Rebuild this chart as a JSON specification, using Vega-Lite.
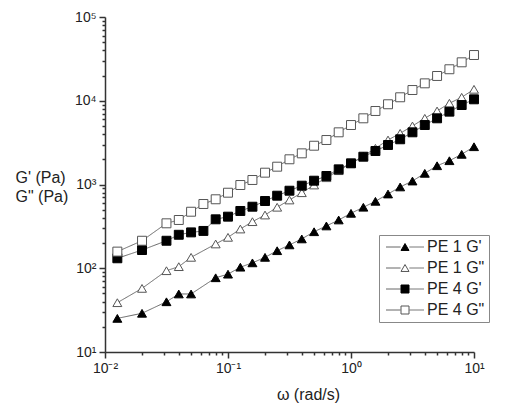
{
  "$schema": "https://vega.github.io/schema/vega-lite/v6.json",
  "width": 369,
  "height": 335,
  "autosize": {"type": "none"},
  "padding": {"left": 105, "top": 17, "right": 33, "bottom": 52},
  "background": "white",
  "config": {
    "view": {"stroke": null},
    "font": "Liberation Sans"
  },
  "data": {
    "values": [
      {"s": "PE 1 G'", "w": 0.0126, "g": 25.2}, {"s": "PE 1 G'", "w": 0.02, "g": 29}, {"s": "PE 1 G'", "w": 0.0316, "g": 39.8}, {"s": "PE 1 G'", "w": 0.0398, "g": 49.3}, {"s": "PE 1 G'", "w": 0.0501, "g": 49.3}, {"s": "PE 1 G'", "w": 0.0794, "g": 77}, {"s": "PE 1 G'", "w": 0.1, "g": 85}, {"s": "PE 1 G'", "w": 0.126, "g": 103}, {"s": "PE 1 G'", "w": 0.158, "g": 116}, {"s": "PE 1 G'", "w": 0.2, "g": 135}, {"s": "PE 1 G'", "w": 0.251, "g": 162}, {"s": "PE 1 G'", "w": 0.316, "g": 190}, {"s": "PE 1 G'", "w": 0.398, "g": 224}, {"s": "PE 1 G'", "w": 0.501, "g": 273}, {"s": "PE 1 G'", "w": 0.631, "g": 320}, {"s": "PE 1 G'", "w": 0.794, "g": 377}, {"s": "PE 1 G'", "w": 1, "g": 453}, {"s": "PE 1 G'", "w": 1.26, "g": 535}, {"s": "PE 1 G'", "w": 1.58, "g": 630}, {"s": "PE 1 G'", "w": 2, "g": 770}, {"s": "PE 1 G'", "w": 2.51, "g": 935}, {"s": "PE 1 G'", "w": 3.16, "g": 1100}, {"s": "PE 1 G'", "w": 3.98, "g": 1360}, {"s": "PE 1 G'", "w": 5.01, "g": 1675}, {"s": "PE 1 G'", "w": 6.31, "g": 1923}, {"s": "PE 1 G'", "w": 7.94, "g": 2293}, {"s": "PE 1 G'", "w": 10, "g": 2825},
      {"s": "PE 1 G\"", "w": 0.0126, "g": 38.8}, {"s": "PE 1 G\"", "w": 0.02, "g": 57.5}, {"s": "PE 1 G\"", "w": 0.0316, "g": 93.5}, {"s": "PE 1 G\"", "w": 0.0398, "g": 104.5}, {"s": "PE 1 G\"", "w": 0.0501, "g": 135}, {"s": "PE 1 G\"", "w": 0.0794, "g": 195}, {"s": "PE 1 G\"", "w": 0.1, "g": 234}, {"s": "PE 1 G\"", "w": 0.126, "g": 294}, {"s": "PE 1 G\"", "w": 0.158, "g": 360}, {"s": "PE 1 G\"", "w": 0.2, "g": 432}, {"s": "PE 1 G\"", "w": 0.251, "g": 535}, {"s": "PE 1 G\"", "w": 0.316, "g": 653}, {"s": "PE 1 G\"", "w": 0.398, "g": 798}, {"s": "PE 1 G\"", "w": 0.501, "g": 986}, {"s": "PE 1 G\"", "w": 0.631, "g": 1205}, {"s": "PE 1 G\"", "w": 0.794, "g": 1462}, {"s": "PE 1 G\"", "w": 1, "g": 1790}, {"s": "PE 1 G\"", "w": 1.26, "g": 2188}, {"s": "PE 1 G\"", "w": 1.58, "g": 2704}, {"s": "PE 1 G\"", "w": 2, "g": 3398}, {"s": "PE 1 G\"", "w": 2.51, "g": 4083}, {"s": "PE 1 G\"", "w": 3.16, "g": 4997}, {"s": "PE 1 G\"", "w": 3.98, "g": 6170}, {"s": "PE 1 G\"", "w": 5.01, "g": 7546}, {"s": "PE 1 G\"", "w": 6.31, "g": 9333}, {"s": "PE 1 G\"", "w": 7.94, "g": 11000}, {"s": "PE 1 G\"", "w": 10, "g": 13700},
      {"s": "PE 4 G'", "w": 0.0126, "g": 131.5}, {"s": "PE 4 G'", "w": 0.02, "g": 165}, {"s": "PE 4 G'", "w": 0.0316, "g": 213}, {"s": "PE 4 G'", "w": 0.0398, "g": 251}, {"s": "PE 4 G'", "w": 0.0501, "g": 268}, {"s": "PE 4 G'", "w": 0.0631, "g": 279}, {"s": "PE 4 G'", "w": 0.0794, "g": 384}, {"s": "PE 4 G'", "w": 0.1, "g": 413}, {"s": "PE 4 G'", "w": 0.126, "g": 483}, {"s": "PE 4 G'", "w": 0.158, "g": 543}, {"s": "PE 4 G'", "w": 0.2, "g": 635}, {"s": "PE 4 G'", "w": 0.251, "g": 735}, {"s": "PE 4 G'", "w": 0.316, "g": 843}, {"s": "PE 4 G'", "w": 0.398, "g": 968}, {"s": "PE 4 G'", "w": 0.501, "g": 1110}, {"s": "PE 4 G'", "w": 0.631, "g": 1264}, {"s": "PE 4 G'", "w": 0.794, "g": 1517}, {"s": "PE 4 G'", "w": 1, "g": 1790}, {"s": "PE 4 G'", "w": 1.26, "g": 2147}, {"s": "PE 4 G'", "w": 1.58, "g": 2512}, {"s": "PE 4 G'", "w": 2, "g": 2963}, {"s": "PE 4 G'", "w": 2.51, "g": 3467}, {"s": "PE 4 G'", "w": 3.16, "g": 4198}, {"s": "PE 4 G'", "w": 3.98, "g": 5130}, {"s": "PE 4 G'", "w": 5.01, "g": 6170}, {"s": "PE 4 G'", "w": 6.31, "g": 7410}, {"s": "PE 4 G'", "w": 7.94, "g": 8890}, {"s": "PE 4 G'", "w": 10, "g": 10400},
      {"s": "PE 4 G\"", "w": 0.0126, "g": 158}, {"s": "PE 4 G\"", "w": 0.02, "g": 213}, {"s": "PE 4 G\"", "w": 0.0316, "g": 344}, {"s": "PE 4 G\"", "w": 0.0398, "g": 377}, {"s": "PE 4 G\"", "w": 0.0501, "g": 473}, {"s": "PE 4 G\"", "w": 0.0631, "g": 585}, {"s": "PE 4 G\"", "w": 0.0794, "g": 666}, {"s": "PE 4 G\"", "w": 0.1, "g": 798}, {"s": "PE 4 G\"", "w": 0.126, "g": 986}, {"s": "PE 4 G\"", "w": 0.158, "g": 1132}, {"s": "PE 4 G\"", "w": 0.2, "g": 1384}, {"s": "PE 4 G\"", "w": 0.251, "g": 1632}, {"s": "PE 4 G\"", "w": 0.316, "g": 2000}, {"s": "PE 4 G\"", "w": 0.398, "g": 2355}, {"s": "PE 4 G\"", "w": 0.501, "g": 2904}, {"s": "PE 4 G\"", "w": 0.631, "g": 3398}, {"s": "PE 4 G\"", "w": 0.794, "g": 4198}, {"s": "PE 4 G\"", "w": 1, "g": 5130}, {"s": "PE 4 G\"", "w": 1.26, "g": 6170}, {"s": "PE 4 G\"", "w": 1.58, "g": 7546}, {"s": "PE 4 G\"", "w": 2, "g": 9078}, {"s": "PE 4 G\"", "w": 2.51, "g": 11000}, {"s": "PE 4 G\"", "w": 3.16, "g": 13430}, {"s": "PE 4 G\"", "w": 3.98, "g": 16140}, {"s": "PE 4 G\"", "w": 5.01, "g": 19760}, {"s": "PE 4 G\"", "w": 6.31, "g": 23770}, {"s": "PE 4 G\"", "w": 7.94, "g": 28770}, {"s": "PE 4 G\"", "w": 10, "g": 35160}
    ]
  },
  "encoding": {
    "x": {
      "field": "w", "type": "quantitative",
      "scale": {"type": "log", "domain": [0.01, 10], "nice": false},
      "axis": {
        "title": "ω (rad/s)",
        "titleFont": "Liberation Sans", "titleFontSize": 16, "titleFontWeight": "normal", "titleColor": "#222",
        "titleX": 203, "titleY": 47, "titleAlign": "center", "titleBaseline": "alphabetic",
        "values": [0.01,0.02,0.03,0.04,0.05,0.06,0.07,0.08,0.09,0.1,0.2,0.3,0.4,0.5,0.6,0.7,0.8,0.9,1,2,3,4,5,6,7,8,9,10],
        "labelExpr": "abs(log(datum.value)/LN10 - round(log(datum.value)/LN10)) > 0.001 ? '' : (round(log(datum.value)/LN10) == -2 ? '10⁻²' : round(log(datum.value)/LN10) == -1 ? '10⁻¹' : round(log(datum.value)/LN10) == 0 ? '10⁰' : '10¹')",
        "labelOverlap": false, "labelFlush": false, "labelBound": false,
        "labelFont": "Liberation Sans", "labelFontSize": 14, "labelColor": "#222", "labelPadding": 3,
        "grid": false,
        "domainColor": "#333", "domainWidth": 1.5,
        "tickColor": "#333", "tickWidth": 1.5,
        "tickSize": {"condition": {"test": "abs(log(datum.value)/LN10 - round(log(datum.value)/LN10)) < 0.001", "value": 6}, "value": 3}
      }
    },
    "y": {
      "field": "g", "type": "quantitative",
      "scale": {"type": "log", "domain": [10, 100000], "nice": false},
      "axis": {
        "title": ["G' (Pa)", "G\" (Pa)"],
        "titleAngle": 0, "titleAlign": "left", "titleBaseline": "alphabetic",
        "titleX": -90, "titleY": 165, "titleLineHeight": 19,
        "titleFont": "Liberation Sans", "titleFontSize": 16, "titleFontWeight": "normal", "titleColor": "#222",
        "values": [10,20,30,40,50,60,70,80,90,100,200,300,400,500,600,700,800,900,1000,2000,3000,4000,5000,6000,7000,8000,9000,10000,20000,30000,40000,50000,60000,70000,80000,90000,100000],
        "labelExpr": "abs(log(datum.value)/LN10 - round(log(datum.value)/LN10)) > 0.001 ? '' : (round(log(datum.value)/LN10) == 1 ? '10¹' : round(log(datum.value)/LN10) == 2 ? '10²' : round(log(datum.value)/LN10) == 3 ? '10³' : round(log(datum.value)/LN10) == 4 ? '10⁴' : '10⁵')",
        "labelOverlap": false, "labelFlush": false, "labelBound": false,
        "labelFont": "Liberation Sans", "labelFontSize": 14, "labelColor": "#222", "labelPadding": 3,
        "grid": false,
        "domainColor": "#333", "domainWidth": 1.5,
        "tickColor": "#333", "tickWidth": 1.5,
        "tickSize": {"condition": {"test": "abs(log(datum.value)/LN10 - round(log(datum.value)/LN10)) < 0.001", "value": 6}, "value": 3}
      }
    }
  },
  "layer": [
    {
      "mark": {"type": "line", "color": "#666666", "strokeWidth": 1},
      "encoding": {
        "strokeDash": {
          "field": "s", "type": "nominal",
          "sort": ["PE 1 G'", "PE 1 G\"", "PE 4 G'", "PE 4 G\""],
          "scale": {"range": [[1, 0], [1, 0], [1, 0], [1, 0]]},
          "legend": {
            "title": null, "orient": "none", "legendX": 274, "legendY": 218,
            "strokeColor": "#888", "padding": 4,
            "symbolType": "M-4.75,0H-1.1M1.1,0H4.75",
            "symbolSize": 64, "symbolOffset": 14, "labelOffset": 14, "rowPadding": 5,
            "symbolStrokeWidth": 1, "symbolStrokeColor": "#666666",
            "labelFont": "Liberation Sans", "labelFontSize": 16, "labelColor": "#222", "labelOpacity": 0
          }
        }
      }
    },
    {
      "mark": {"type": "point", "filled": true, "size": 80, "strokeWidth": 1, "opacity": 1},
      "encoding": {
        "shape": {
          "field": "s", "type": "nominal",
          "scale": {"domain": ["PE 1 G'", "PE 1 G\"", "PE 4 G'", "PE 4 G\""], "range": ["triangle-up", "triangle-up", "square", "square"]},
          "legend": {
            "title": null, "orient": "none", "legendX": 274, "legendY": 218,
            "padding": 4,
            "symbolSize": 64, "symbolOffset": 14, "labelOffset": 14, "rowPadding": 5,
            "symbolStrokeWidth": 1,
            "labelFont": "Liberation Sans", "labelFontSize": 16, "labelColor": "#222"
          }
        },
        "fill": {
          "field": "s", "type": "nominal",
          "scale": {"domain": ["PE 1 G'", "PE 1 G\"", "PE 4 G'", "PE 4 G\""], "range": ["#000000", "#ffffff", "#000000", "#ffffff"]}
        },
        "stroke": {
          "field": "s", "type": "nominal",
          "scale": {"domain": ["PE 1 G'", "PE 1 G\"", "PE 4 G'", "PE 4 G\""], "range": ["#000000", "#555555", "#000000", "#555555"]}
        }
      }
    }
  ]
}
